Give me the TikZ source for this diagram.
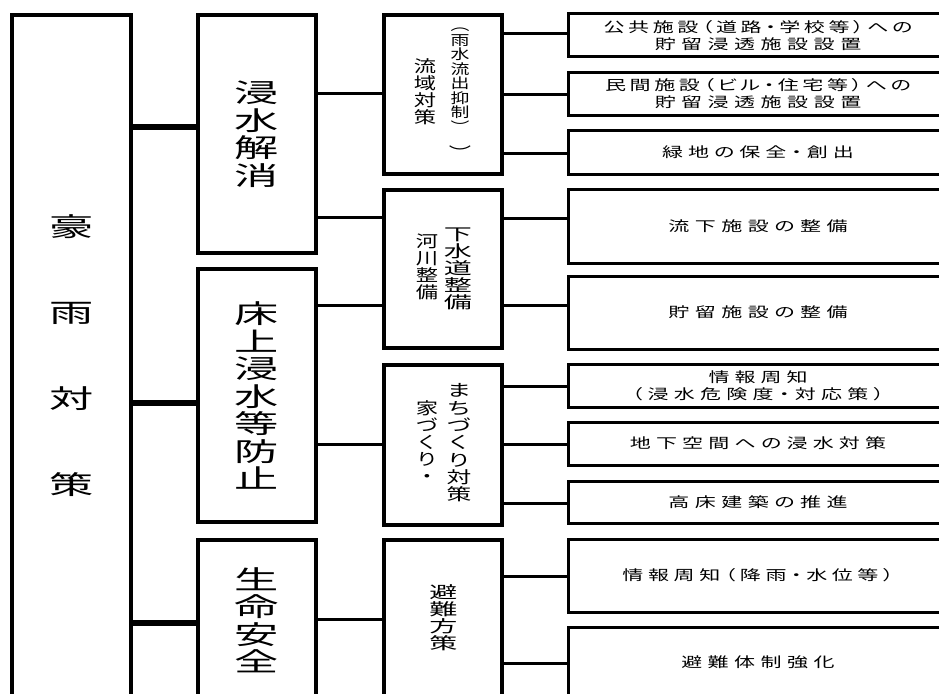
\documentclass[tikz,border=0pt]{standalone}
\usepackage{fontspec}
\newfontfamily\jpL[FakeStretch=1.7]{Noto Sans CJK JP}
\newfontfamily\jpM[FakeStretch=1.35]{Noto Sans CJK JP}
\newfontfamily\jpW[FakeStretch=1.7]{Noto Sans CJK JP}
\newfontfamily\jpR[FakeStretch=1.5]{Noto Sans CJK JP}
\newfontfamily\jpS[FakeStretch=1.5,RawFeature={+palt}]{Noto Sans CJK JP}
\newcommand\fA{\jpL\fontsize{26}{86}\selectfont}
\newcommand\fB{\jpL\fontsize{26}{27.5}\selectfont}
\newcommand\fM{\jpM\fontsize{16.5}{17}\selectfont}
\newcommand\fW{\jpW\fontsize{16.5}{17}\selectfont}
\newcommand\fR{\jpR\fontsize{16.5}{17.3}\selectfont}
\newcommand\fP{\jpM\fontsize{14}{14.5}\selectfont}
\newcommand\fS{\jpS\fontsize{14}{17}\selectfont}
\newdimen\lsp
\def\lsend{\lsend}
\def\lsloop#1{\ifx\lsend#1\else#1\kern\lsp\expandafter\lsloop\fi}
\newcommand\ls[2]{\lsp=#1\relax\lsloop#2\lsend\kern-\lsp}
\tikzset{
  box/.style={draw, line width=4pt, inner sep=0pt, rectangle, align=center},
  lbox/.style={draw, line width=3pt, inner sep=0pt, rectangle, align=center, font=\fS,
               minimum width=380pt},
  link1/.style={line width=6.5pt},
  link/.style={line width=3pt},
}
\begin{document}
\begin{tikzpicture}[x=1pt,y=-1pt]
\useasboundingbox (0,0) rectangle (939,693);
\clip (0,0) rectangle (939,693);
% level 1
\node[box, font=\fA, minimum width=119pt, minimum height=682pt] (A) at (71.5,356) {豪\\雨\\対\\策};
% level 2
\node[box, font=\fB, minimum width=118pt, minimum height=238pt] (B1) at (257,134) {浸\\水\\解\\消};
\node[box, font=\fB, minimum width=118pt, minimum height=253pt] (B2) at (257,395.5) {床\\上\\浸\\水\\等\\防\\止};
\node[box, font=\fB, minimum width=118pt, minimum height=160pt] (B3) at (257,620) {生\\命\\安\\全};
% level 3
\node[box, minimum width=118pt, minimum height=159pt] (C1) at (443,94.5) {};
\node[box, minimum width=118pt, minimum height=158pt] (C2) at (443,269) {};
\node[box, minimum width=118pt, minimum height=160pt] (C3) at (443,445) {};
\node[box, minimum width=118pt, minimum height=160pt] (C4) at (443,620) {};
\node[font=\fM, align=center] (C1a) at (425,92) {流\\域\\対\\策};
\node[font=\fP, align=center] (C1b) at (460,80) {︵\\雨\\水\\流\\出\\抑\\制\\︶};
\node[font=\fM] (C1c) at (460,153) {︶};
\node[font=\fM, align=center] (C2a) at (427,266.5) {河\\川\\整\\備};
\node[font=\fW, align=center] (C2b) at (458,268.5) {下\\水\\道\\整\\備};
\node[font=\fR, align=center] (C3a) at (459,443) {ま\\ち\\づ\\く\\り\\対\\策};
\node[font=\fM, align=center] (C3b) at (427,441.5) {家\\づ\\く\\り\\・};
\node[font=\fW, align=center] (C4a) at (443.5,618) {避\\難\\方\\策};
% level 4
\node[lbox, minimum height=43pt] (D1) at (758,35.5) {\ls{3.6pt}{公共施設（道路・学校等）への}\\\ls{5.5pt}{貯留浸透施設設置}};
\node[lbox, minimum height=43pt] (D2) at (758,93.5) {\ls{3.6pt}{民間施設（ビル・住宅等）への}\\\ls{5.5pt}{貯留浸透施設設置}};
\node[lbox, minimum height=44pt] (D3) at (758,152) {\ls{5pt}{緑地の保全・創出}};
\node[lbox, minimum height=74pt] (D4) at (758,226) {\ls{5.5pt}{流下施設の整備}};
\node[lbox, minimum height=73pt] (D5) at (758,312.5) {\ls{5.5pt}{貯留施設の整備}};
\node[lbox, minimum height=43pt] (D6) at (758,385.5) {\ls{5pt}{情報周知}\\\ls{5.3pt}{（浸水危険度・対応策）}};
\node[lbox, minimum height=43pt] (D7) at (758,443.5) {\ls{5.2pt}{地下空間への浸水対策}};
\node[lbox, minimum height=42pt] (D8) at (758,502) {\ls{5.5pt}{高床建築の推進}};
\node[lbox, minimum height=73pt] (D9) at (758,575.5) {\ls{4.6pt}{情報周知（降雨・水位等）}};
\node[lbox, minimum height=70pt] (D10) at (758,662) {\ls{5.5pt}{避難体制強化}};
% connectors level 1-2
\draw[link1] (A.east |- 0,127) -- (B1.west |- 0,127);
\draw[link1] (A.east |- 0,403) -- (B2.west |- 0,403);
\draw[link1] (A.east |- 0,623) -- (B3.west |- 0,623);
% connectors level 2-3
\draw[link] (B1.east |- 0,93) -- (C1.west |- 0,93);
\draw[link] (B1.east |- 0,217) -- (C2.west |- 0,217);
\draw[link] (B2.east |- 0,305) -- (C2.west |- 0,305);
\draw[link] (B2.east |- 0,444) -- (C3.west |- 0,444);
\draw[link] (B3.east |- 0,619) -- (C4.west |- 0,619);
% connectors level 3-4
\draw[link] (C1.east |- 0,34) -- (D1.west |- 0,34);
\draw[link] (C1.east |- 0,94) -- (D2.west |- 0,94);
\draw[link] (C1.east |- 0,153) -- (D3.west |- 0,153);
\draw[link] (C2.east |- 0,218) -- (D4.west |- 0,218);
\draw[link] (C2.east |- 0,305) -- (D5.west |- 0,305);
\draw[link] (C3.east |- 0,386) -- (D6.west |- 0,386);
\draw[link] (C3.east |- 0,444) -- (D7.west |- 0,444);
\draw[link] (C3.east |- 0,503) -- (D8.west |- 0,503);
\draw[link] (C4.east |- 0,576) -- (D9.west |- 0,576);
\draw[link] (C4.east |- 0,663) -- (D10.west |- 0,663);
\end{tikzpicture}
\end{document}
